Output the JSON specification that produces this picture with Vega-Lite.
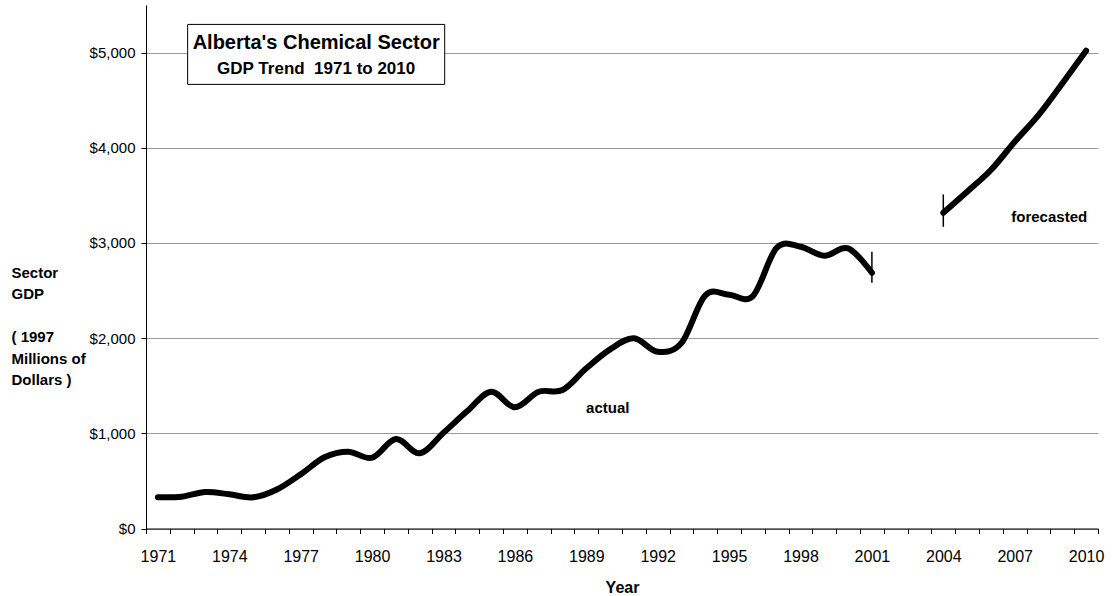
{
  "$schema": "https://vega.github.io/schema/vega-lite/v6.json",
  "width": 952,
  "height": 523.5,
  "autosize": {"type": "none"},
  "padding": {"left": 146, "top": 5, "right": 14, "bottom": 67.5},
  "background": "white",
  "config": {
    "view": {"stroke": null},
    "font": "Liberation Sans",
    "axis": {"labelFont": "Liberation Sans", "titleFont": "Liberation Sans", "labelColor": "#000", "titleColor": "#000"},
    "axisX": {"labelOverlap": false, "labelFlush": false, "labelBound": false}
  },
  "datasets": {
    "gdp": [
      {"series": "actual", "year": 1971, "value": 328},
      {"series": "actual", "year": 1972, "value": 334},
      {"series": "actual", "year": 1973, "value": 383},
      {"series": "actual", "year": 1974, "value": 359},
      {"series": "actual", "year": 1975, "value": 328},
      {"series": "actual", "year": 1976, "value": 410},
      {"series": "actual", "year": 1977, "value": 569},
      {"series": "actual", "year": 1978, "value": 748},
      {"series": "actual", "year": 1979, "value": 807},
      {"series": "actual", "year": 1980, "value": 744},
      {"series": "actual", "year": 1981, "value": 940},
      {"series": "actual", "year": 1982, "value": 790},
      {"series": "actual", "year": 1983, "value": 1006},
      {"series": "actual", "year": 1984, "value": 1234},
      {"series": "actual", "year": 1985, "value": 1437},
      {"series": "actual", "year": 1986, "value": 1273},
      {"series": "actual", "year": 1987, "value": 1437},
      {"series": "actual", "year": 1988, "value": 1455},
      {"series": "actual", "year": 1989, "value": 1683},
      {"series": "actual", "year": 1990, "value": 1882},
      {"series": "actual", "year": 1991, "value": 1998},
      {"series": "actual", "year": 1992, "value": 1857},
      {"series": "actual", "year": 1993, "value": 1950},
      {"series": "actual", "year": 1994, "value": 2450},
      {"series": "actual", "year": 1995, "value": 2455},
      {"series": "actual", "year": 1996, "value": 2442},
      {"series": "actual", "year": 1997, "value": 2950},
      {"series": "actual", "year": 1998, "value": 2960},
      {"series": "actual", "year": 1999, "value": 2866},
      {"series": "actual", "year": 2000, "value": 2943},
      {"series": "actual", "year": 2001, "value": 2687},
      {"series": "forecasted", "year": 2004, "value": 3317},
      {"series": "forecasted", "year": 2005, "value": 3538},
      {"series": "forecasted", "year": 2006, "value": 3766},
      {"series": "forecasted", "year": 2007, "value": 4063},
      {"series": "forecasted", "year": 2008, "value": 4343},
      {"series": "forecasted", "year": 2009, "value": 4676},
      {"series": "forecasted", "year": 2010, "value": 5019}
    ],
    "markers": [
      {"year": 2001, "value": 2582, "value2": 2908},
      {"year": 2004, "value": 3170, "value2": 3510}
    ],
    "box": [
      {"year": 1972.25, "year2": 1983.05, "value": 4666, "value2": 5296}
    ],
    "heading": [
      {"line": 1, "year": 1977.65, "value": 5034, "label": "Alberta's Chemical Sector"},
      {"line": 2, "year": 1977.65, "value": 4774, "label": "GDP Trend\u00a0 1971 to 2010"}
    ],
    "notes": [
      {"year": 1989.9, "value": 1210, "label": "actual"},
      {"year": 2008.45, "value": 3216, "label": "forecasted"}
    ]
  },
  "layer": [
    {
      "data": {"name": "gdp"},
      "mark": {"type": "line", "color": "#000", "strokeWidth": 6, "strokeCap": "round", "strokeJoin": "round", "interpolate": "cardinal", "clip": false},
      "encoding": {
        "x": {
          "field": "year", "type": "quantitative", "title": "Year",
          "scale": {"domain": [1970.5, 2010.5], "nice": false, "zero": false},
          "axis": {
            "values": [1970.5, 1971.5, 1972.5, 1973.5, 1974.5, 1975.5, 1976.5, 1977.5, 1978.5, 1979.5, 1980.5, 1981.5, 1982.5, 1983.5, 1984.5, 1985.5, 1986.5, 1987.5, 1988.5, 1989.5, 1990.5, 1991.5, 1992.5, 1993.5, 1994.5, 1995.5, 1996.5, 1997.5, 1998.5, 1999.5, 2000.5, 2001.5, 2002.5, 2003.5, 2004.5, 2005.5, 2006.5, 2007.5, 2008.5, 2009.5, 2010.5],
            "tickCount": 100,
            "labelExpr": "(datum.value + 0.5 - 1971) % 3 == 0 ? '' + (datum.value + 0.5) : ''",
            "labelOffset": 11.9,
            "labelFlush": false,
            "labelOverlap": false,
            "labelBound": false,
            "labelFontSize": 16,
            "labelPadding": 15,
            "labelAngle": 0,
            "grid": false,
            "tickSize": 5,
            "tickColor": "#000",
            "domainColor": "#000",
            "titleFontSize": 16,
            "titleFontWeight": "bold",
            "titleX": 476,
            "titleY": 64,
            "titleAlign": "center",
            "titleBaseline": "alphabetic"
          }
        },
        "y": {
          "field": "value", "type": "quantitative",
          "title": ["Sector", "GDP", "\u200b", "( 1997", "Millions of", "Dollars )"],
          "scale": {"domain": [0, 5500], "nice": false},
          "axis": {
            "values": [0, 1000, 2000, 3000, 4000, 5000],
            "tickCount": 20,
            "format": "$,.0f",
            "labelFontSize": 15,
            "labelPadding": 6,
            "tickSize": 5,
            "tickColor": "#000",
            "domainColor": "#000",
            "grid": true,
            "gridColor": "#999",
            "gridWidth": 1,
            "titleAngle": 0,
            "titleAlign": "left",
            "titleBaseline": "alphabetic",
            "titleX": -135,
            "titleY": 272.3,
            "titleFontSize": 15,
            "titleFontWeight": "bold",
            "titleLineHeight": 21.5
          }
        },
        "detail": {"field": "series"}
      }
    },
    {
      "data": {"name": "markers"},
      "mark": {"type": "rule", "color": "#000", "strokeWidth": 1.5},
      "encoding": {
        "x": {"field": "year", "type": "quantitative", "title": "Year"},
        "y": {"field": "value", "type": "quantitative", "title": ["Sector", "GDP", "\u200b", "( 1997", "Millions of", "Dollars )"]},
        "y2": {"field": "value2"}
      }
    },
    {
      "data": {"name": "box"},
      "mark": {"type": "rect", "fill": "white", "stroke": "#000", "strokeWidth": 1},
      "encoding": {
        "x": {"field": "year", "type": "quantitative", "title": "Year"},
        "x2": {"field": "year2"},
        "y": {"field": "value", "type": "quantitative", "title": ["Sector", "GDP", "\u200b", "( 1997", "Millions of", "Dollars )"]},
        "y2": {"field": "value2"}
      }
    },
    {
      "data": {"name": "heading"},
      "transform": [{"filter": "datum.line == 1"}],
      "mark": {"type": "text", "fontSize": 20, "fontWeight": "bold", "color": "#000", "align": "center", "baseline": "alphabetic"},
      "encoding": {
        "x": {"field": "year", "type": "quantitative", "title": "Year"},
        "y": {"field": "value", "type": "quantitative", "title": ["Sector", "GDP", "\u200b", "( 1997", "Millions of", "Dollars )"]},
        "text": {"field": "label"}
      }
    },
    {
      "data": {"name": "heading"},
      "transform": [{"filter": "datum.line == 2"}],
      "mark": {"type": "text", "fontSize": 17, "fontWeight": "bold", "color": "#000", "align": "center", "baseline": "alphabetic"},
      "encoding": {
        "x": {"field": "year", "type": "quantitative", "title": "Year"},
        "y": {"field": "value", "type": "quantitative", "title": ["Sector", "GDP", "\u200b", "( 1997", "Millions of", "Dollars )"]},
        "text": {"field": "label"}
      }
    },
    {
      "data": {"name": "notes"},
      "mark": {"type": "text", "fontSize": 15, "fontWeight": "bold", "color": "#000", "align": "center", "baseline": "alphabetic"},
      "encoding": {
        "x": {"field": "year", "type": "quantitative", "title": "Year"},
        "y": {"field": "value", "type": "quantitative", "title": ["Sector", "GDP", "\u200b", "( 1997", "Millions of", "Dollars )"]},
        "text": {"field": "label"}
      }
    }
  ]
}
